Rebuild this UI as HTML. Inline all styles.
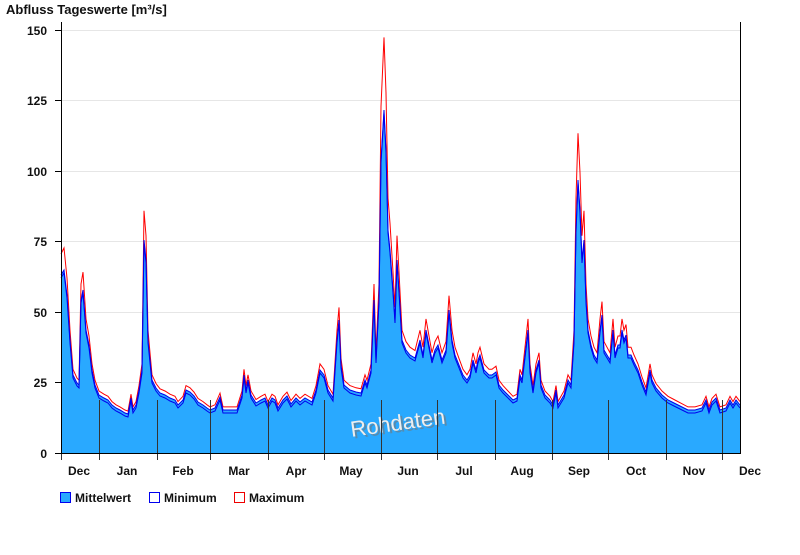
<!DOCTYPE html>
<html><head><meta charset="utf-8"><style>
body{margin:0;background:#fff;width:800px;height:550px;overflow:hidden;font-family:"Liberation Sans",Arial,sans-serif}
</style></head><body>
<svg id="s" width="800" height="550" xmlns="http://www.w3.org/2000/svg" font-family="Liberation Sans, Arial, sans-serif">
<text x="6" y="14" font-size="13" font-weight="bold" fill="#111">Abfluss Tageswerte [m³/s]</text>
<g stroke="#e6e6e6" stroke-width="1">
<line x1="61" x2="740" y1="30.5" y2="30.5"/><line x1="61" x2="740" y1="100.5" y2="100.5"/>
<line x1="61" x2="740" y1="171.5" y2="171.5"/><line x1="61" x2="740" y1="241.5" y2="241.5"/>
<line x1="61" x2="740" y1="312.5" y2="312.5"/><line x1="61" x2="740" y1="382.5" y2="382.5"/>
</g>
<g id="data"></g>
<text x="400" y="432" font-size="22" fill="#777" transform="rotate(-8 400 425)" text-anchor="middle" opacity="0.6">Rohdaten</text>
<text x="398" y="430" font-size="22" fill="#eee" transform="rotate(-8 400 425)" text-anchor="middle">Rohdaten</text>
<g stroke="#333" stroke-width="1" id="seps"></g>
<line x1="61.5" y1="22" x2="61.5" y2="454" stroke="#000"/>
<line x1="740.5" y1="22" x2="740.5" y2="454" stroke="#000"/>
<line x1="55" y1="453.5" x2="741" y2="453.5" stroke="#000"/>
<g stroke="#000"><line x1="55" x2="61" y1="30.5" y2="30.5"/><line x1="55" x2="61" y1="100.5" y2="100.5"/><line x1="55" x2="61" y1="171.5" y2="171.5"/><line x1="55" x2="61" y1="241.5" y2="241.5"/><line x1="55" x2="61" y1="312.5" y2="312.5"/><line x1="55" x2="61" y1="382.5" y2="382.5"/></g>
<g font-size="12" font-weight="bold" fill="#111" text-anchor="end">
<text x="47" y="35">150</text><text x="47" y="105">125</text><text x="47" y="176">100</text><text x="47" y="246">75</text><text x="47" y="317">50</text><text x="47" y="387">25</text><text x="47" y="458">0</text>
</g>
<g font-size="12" font-weight="bold" fill="#111" text-anchor="middle">
<text x="79" y="475">Dec</text><text x="127" y="475">Jan</text><text x="183" y="475">Feb</text><text x="239" y="475">Mar</text><text x="296" y="475">Apr</text><text x="351" y="475">May</text><text x="408" y="475">Jun</text><text x="464" y="475">Jul</text><text x="522" y="475">Aug</text><text x="579" y="475">Sep</text><text x="636" y="475">Oct</text><text x="694" y="475">Nov</text><text x="750" y="475">Dec</text>
</g>
<rect x="60.5" y="492.5" width="10" height="10" fill="#29a9ff" stroke="#0000ee"/>
<text x="75" y="502" font-size="12" font-weight="bold" fill="#111">Mittelwert</text>
<rect x="149.5" y="492.5" width="10" height="10" fill="#fff" stroke="#0000ee"/>
<text x="164" y="502" font-size="12" font-weight="bold" fill="#111">Minimum</text>
<rect x="234.5" y="492.5" width="10" height="10" fill="#fff" stroke="#ee0000"/>
<text x="249" y="502" font-size="12" font-weight="bold" fill="#111">Maximum</text>
</svg>
<script>
var p=[61,275,64,270,67,295,70,340,73,375,77,383,79,385,81,300,83,290,86,330,89,345,92,370,95,385,99,395,104,398,108,400,112,405,116,408,120,410,125,413,128,414,131,398,133,410,136,405,139,390,142,370,144,240,146,260,148,340,150,360,152,380,156,388,160,393,165,395,170,398,175,400,178,405,183,400,186,390,190,392,194,396,198,402,203,405,207,408,210,410,215,408,220,397,223,410,230,410,237,410,242,395,244,375,246,390,248,380,251,395,256,403,261,400,265,398,268,405,272,398,275,400,278,408,283,400,287,396,291,404,296,398,300,402,305,398,312,402,316,390,320,370,324,375,328,390,333,398,337,340,339,320,341,365,344,385,350,390,356,392,361,393,365,380,367,385,371,370,374,300,376,360,379,300,381,160,384,110,386,150,388,230,390,250,393,290,395,320,397,260,399,290,402,340,406,350,410,355,415,358,420,340,423,355,426,330,429,345,432,360,435,350,438,345,442,360,446,350,449,310,452,340,455,355,459,365,463,375,467,380,470,375,473,360,476,370,478,360,480,355,484,370,489,375,492,375,496,372,499,385,503,390,508,395,513,400,517,398,520,375,522,380,525,355,528,330,530,370,533,390,536,370,539,360,541,385,545,395,550,400,553,405,556,390,558,405,561,400,564,395,568,380,571,385,574,340,576,230,578,180,580,210,582,260,584,240,586,300,588,330,591,345,594,355,597,360,600,330,602,315,604,350,607,355,610,360,613,330,615,355,618,345,620,345,622,330,624,340,626,335,628,355,631,355,634,362,638,370,642,382,646,392,650,370,652,380,656,388,662,395,668,400,674,403,680,406,688,410,695,410,702,408,706,400,709,410,712,402,716,398,720,410,726,408,730,400,733,405,736,400,740,405];
function path(f){var s="";for(var i=0;i<p.length;i+=2){s+=(i?"L":"M")+p[i]+","+f(p[i+1]).toFixed(1);}return s;}
var mean=path(function(y){return y}),mn=path(function(y){return Math.min(453,y+3)}),mx=path(function(y){var d=453-y;return y-2-0.0006*d*d;});
var g=document.getElementById("data");
g.innerHTML='<path d="'+mean+'L740,453L61,453Z" fill="#29a9ff"/>'+
'<path d="'+mx+'" fill="none" stroke="#ff0000" stroke-width="1"/>'+
'<path d="'+mean+'" fill="none" stroke="#0000ee" stroke-width="1"/>'+
'<path d="'+mn+'" fill="none" stroke="#0000ee" stroke-width="1"/>';
var xs=[99,157,210,268,324,381,437,495,552,608,666,722],h="";
xs.forEach(function(x){h+='<line x1="'+(x+.5)+'" x2="'+(x+.5)+'" y1="400" y2="460"/>';});
h+='<line x1="61.5" x2="61.5" y1="453" y2="460"/>';
document.getElementById("seps").innerHTML=h;
</script>
</body></html>
